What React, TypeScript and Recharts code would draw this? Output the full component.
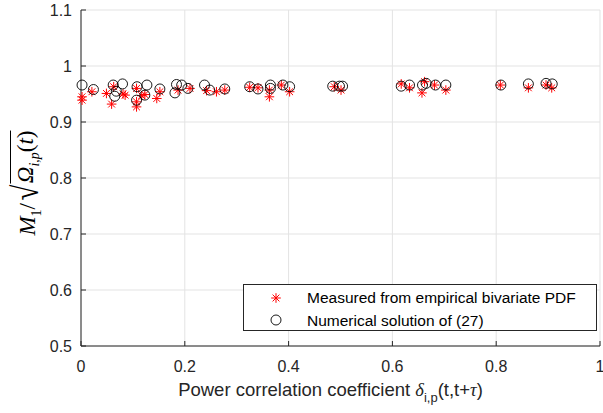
import React from "react";
import { ScatterChart, Scatter, XAxis, YAxis, CartesianGrid, Legend } from "recharts";

const xTicks = [0, 0.2, 0.4, 0.6, 0.8, 1];
const yTicks = [0.5, 0.6, 0.7, 0.8, 0.9, 1, 1.1];

// measured from empirical bivariate PDF (red asterisks)
const measuredX = [
  0.002, 0.002, 0.021, 0.049, 0.059, 0.063, 0.081, 0.085, 0.107, 0.107, 0.107, 0.117, 0.123,
  0.146, 0.152, 0.187, 0.21, 0.242, 0.261, 0.277, 0.325, 0.341, 0.363, 0.363, 0.386, 0.402,
  0.488, 0.501, 0.617, 0.633, 0.657, 0.662, 0.681, 0.703, 0.808, 0.862, 0.896, 0.907,
];
const measuredY = [
  0.945, 0.939, 0.954, 0.951, 0.932, 0.963, 0.95, 0.948, 0.936, 0.96, 0.927, 0.947, 0.949,
  0.942, 0.954, 0.957, 0.96, 0.956, 0.954, 0.957, 0.962, 0.961, 0.957, 0.945, 0.966, 0.954,
  0.963, 0.957, 0.968, 0.961, 0.952, 0.972, 0.966, 0.957, 0.966, 0.961, 0.966, 0.961,
];

// numerical solution of (27) (black circles)
const numericalX = [
  0.002, 0.024, 0.062, 0.065, 0.068, 0.08, 0.107, 0.108, 0.123, 0.127, 0.152, 0.181, 0.184,
  0.194, 0.206, 0.238, 0.248, 0.277, 0.325, 0.341, 0.365, 0.365, 0.389, 0.402, 0.485, 0.498,
  0.504, 0.617, 0.633, 0.658, 0.665, 0.683, 0.703, 0.809, 0.862, 0.896, 0.908,
];
const numericalY = [
  0.966, 0.958, 0.966, 0.946, 0.955, 0.968, 0.939, 0.963, 0.948, 0.966, 0.959, 0.952, 0.967,
  0.966, 0.96, 0.966, 0.957, 0.959, 0.963, 0.959, 0.966, 0.96, 0.966, 0.963, 0.964, 0.964,
  0.964, 0.964, 0.966, 0.966, 0.969, 0.966, 0.966, 0.966, 0.968, 0.969, 0.968,
];

const measured = measuredX.map((x, i) => ({ x, y: measuredY[i] }));
const numerical = numericalX.map((x, i) => ({ x, y: numericalY[i] }));

const AXIS = "#262626";
const SANS = "'Liberation Sans', Arial, Helvetica, sans-serif";
const SERIF = "'Liberation Serif', 'Times New Roman', serif";

function Star(props: any) {
  const { cx, cy } = props;
  const r = 4.8;
  const d = r * 0.707;
  return (
    <g stroke="#ff0000" strokeWidth={1}>
      <line x1={cx - r} y1={cy} x2={cx + r} y2={cy} />
      <line x1={cx} y1={cy - r} x2={cx} y2={cy + r} />
      <line x1={cx - d} y1={cy - d} x2={cx + d} y2={cy + d} />
      <line x1={cx - d} y1={cy + d} x2={cx + d} y2={cy - d} />
    </g>
  );
}

function Ring(props: any) {
  const { cx, cy } = props;
  return <circle cx={cx} cy={cy} r={5} fill="none" stroke="#000" strokeWidth={0.9} />;
}

function XLabel(props: any) {
  const { viewBox } = props;
  const x = viewBox.x + viewBox.width / 2 - 10;
  return (
    <text x={x} y={396} textAnchor="middle" fontFamily={SANS} fontSize={18.5} fill={AXIS}>
      Power correlation coefficient{" "}
      <tspan fontFamily={SERIF} fontStyle="italic">δ</tspan>
      <tspan fontSize={13} dy={6}>i,p</tspan>
      <tspan dy={-6}>(t,t+</tspan>
      <tspan fontFamily={SERIF} fontStyle="italic">τ</tspan>
      <tspan>)</tspan>
    </text>
  );
}

function LegendBox() {
  const row = { display: "flex", alignItems: "center", height: 23 };
  return (
    <div
      style={{
        border: `1px solid ${AXIS}`,
        background: "#fff",
        boxSizing: "border-box",
        width: 354,
        height: 47,
        fontFamily: SANS,
        fontSize: 15.5,
        color: "#000",
        paddingTop: 1,
      }}
    >
      <div style={row}>
        <svg width={63} height={23}>
          <Star cx={32} cy={12} />
        </svg>
        <span>Measured from empirical bivariate PDF</span>
      </div>
      <div style={row}>
        <svg width={63} height={23}>
          <Ring cx={32} cy={11} />
        </svg>
        <span>Numerical solution of (27)</span>
      </div>
    </div>
  );
}

export default function App() {
  return (
    <div style={{ position: "absolute", left: 0, top: 0, width: 603, height: 413, background: "#fff" }}>
      <ScatterChart width={603} height={413} margin={{ top: 10, right: 3, bottom: 0, left: 0 }}>
        <CartesianGrid stroke="#e3e3e3" />
        <XAxis
          type="number"
          dataKey="x"
          domain={[0, 1]}
          ticks={xTicks}
          interval={0}
          height={67}
          tickSize={-5}
          tickMargin={20}
          stroke={AXIS}
          tick={{ fill: AXIS, fontSize: 16, fontFamily: SANS }}
          tickFormatter={(v) => String(v)}
          label={<XLabel />}
        />
        <XAxis
          xAxisId="top"
          orientation="top"
          type="number"
          domain={[0, 1]}
          ticks={xTicks}
          interval={0}
          height={0}
          tickSize={-5}
          stroke={AXIS}
          tickFormatter={() => ""}
        />
        <YAxis
          type="number"
          dataKey="y"
          domain={[0.5, 1.1]}
          ticks={yTicks}
          interval={0}
          width={81}
          tickSize={-5}
          tickMargin={14}
          stroke={AXIS}
          tick={{ fill: AXIS, fontSize: 16, fontFamily: SANS }}
          tickFormatter={(v) => String(v)}
        />
        <YAxis
          yAxisId="right"
          orientation="right"
          type="number"
          domain={[0.5, 1.1]}
          ticks={yTicks}
          interval={0}
          width={0}
          tickSize={-5}
          stroke={AXIS}
          tickFormatter={() => ""}
        />
        <Legend
          layout="vertical"
          align="center"
          verticalAlign="middle"
          content={() => <LegendBox />}
          wrapperStyle={{ left: 243, top: 284, width: 354, height: 47 }}
        />
        <Scatter
          name="Measured from empirical bivariate PDF"
          data={measured}
          shape={<Star />}
          isAnimationActive={false}
        />
        <Scatter
          name="Numerical solution of (27)"
          data={numerical}
          shape={<Ring />}
          isAnimationActive={false}
        />
      </ScatterChart>
      <div
        style={{
          position: "absolute",
          left: 26,
          top: 183,
          transform: "translate(-50%, -50%) rotate(-90deg)",
          whiteSpace: "nowrap",
          fontFamily: SERIF,
          fontSize: 23,
          color: "#000",
          lineHeight: 1,
          display: "flex",
          alignItems: "flex-end",
        }}
      >
        <span>
          <i>M</i>
          <sub style={{ fontSize: 14 }}>1</sub>/
        </span>
        <span style={{ fontSize: 36, fontWeight: 300, lineHeight: 1, transform: "scaleX(0.8)" }}>√</span>
        <span style={{ borderTop: "1px solid #000", paddingTop: 3, marginBottom: 2 }}>
          <i>Ω</i>
          <sub style={{ fontSize: 14 }}>
            <i>i,p</i>
          </sub>
          (<i>t</i>)
        </span>
      </div>
    </div>
  );
}
